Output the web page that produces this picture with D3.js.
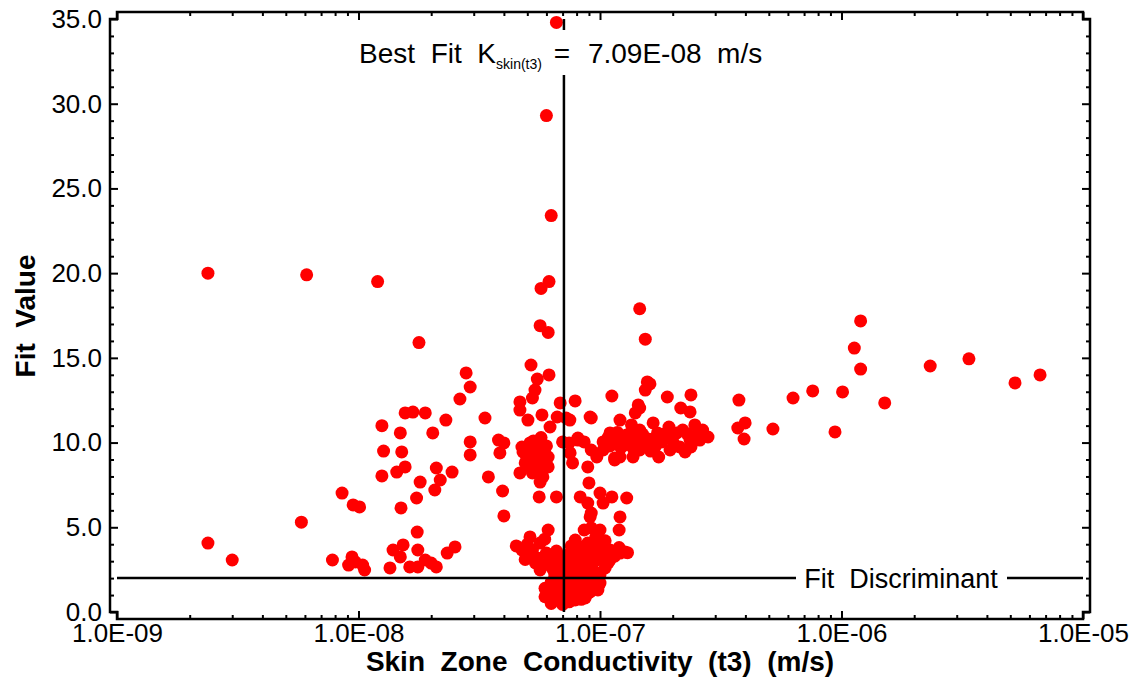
<!DOCTYPE html>
<html>
<head>
<meta charset="utf-8">
<script src="https://cdn.jsdelivr.net/npm/d3@7"></script>
<style>
  body { margin: 0; background: #fff; }
  text { font-family: "Liberation Sans", Arial, sans-serif; fill: #000; }
</style>
</head>
<body>
<svg id="chart" width="1141" height="686"></svg>
<script>
// points are [conductivity K (m/s), fit value]
var outliers = [
  [6.6e-8,34.8],[6.0e-8,29.3],[6.28e-8,23.4],[6.15e-8,19.5],[5.7e-8,19.1],
  [2.38e-9,20.0],[6.1e-9,19.9],[1.2e-8,19.5],[1.78e-8,15.9],[5.65e-8,16.9],
  [6.1e-8,16.5],[1.46e-7,17.9],[1.54e-7,16.1]
];
var leftGroup = [
  [2.38e-9,4.07],[3.0e-9,3.07],[5.8e-9,5.3],[7.8e-9,3.07],[8.55e-9,7.02],
  [9.5e-9,6.32],[1.01e-8,6.2],[9.4e-9,3.25],[9.7e-9,2.95],[1.04e-8,2.77],
  [1.06e-8,2.48],[9.1e-9,2.77],[1.35e-8,2.6],[1.39e-8,3.66],[1.53e-8,3.96],
  [1.49e-8,3.25],[1.75e-8,4.72],[1.76e-8,3.66],[1.89e-8,3.07],[1.63e-8,2.66],
  [1.76e-8,2.66],[2.1e-8,2.66],[2.0e-8,2.89],[2.33e-8,3.48],[2.51e-8,3.84],
  [1.25e-8,11.0],[1.56e-8,11.75],[1.68e-8,11.8],[1.89e-8,11.75],[1.49e-8,10.57],
  [1.27e-8,9.5],[1.51e-8,9.45],[1.25e-8,8.03],[1.44e-8,8.26],[1.56e-8,8.56],
  [1.8e-8,7.67],[2.1e-8,8.5],[2.44e-8,8.26],[2.18e-8,7.79],[2.07e-8,7.2],
  [1.74e-8,6.73],[1.5e-8,6.14],[2.3e-8,11.33],[2.03e-8,10.57],[2.79e-8,14.11],
  [2.9e-8,13.28],[2.63e-8,12.57],[3.34e-8,11.45],[2.9e-8,10.04],[2.9e-8,9.27],
  [3.8e-8,10.15],[4.0e-8,9.98],[3.85e-8,9.39],[3.45e-8,7.97],[3.95e-8,7.14],
  [4.0e-8,5.67]
];
var centerCluster = [
  [5.18e-8,14.58],[5.5e-8,13.75],[6.15e-8,13.99],[5.38e-8,13.1],[5.25e-8,12.63],
  [4.66e-8,12.4],[4.66e-8,11.92],[5.03e-8,11.33],[5.75e-8,11.63],[6.21e-8,10.92],
  [6.65e-8,11.51],[6.84e-8,12.34],[7.89e-8,12.46],[7.24e-8,11.45],[9.2e-8,11.45],
  [4.75e-8,9.74],[5.13e-8,9.98],[5.5e-8,9.74],[5.92e-8,9.39],[4.98e-8,9.15],
  [5.25e-8,8.97],[5.75e-8,8.8],[6.1e-8,8.56],[5.13e-8,8.56],[4.66e-8,8.21],
  [5.25e-8,8.21],[5.8e-8,7.97],[5.65e-8,7.67],[4.8e-8,9.45],[6.1e-8,9.15],
  [5.0e-8,9.6],[5.4e-8,9.3],[5.8e-8,9.0],[5.5e-8,8.4],[4.9e-8,8.8],
  [6.0e-8,9.8],[5.3e-8,10.1],[5.7e-8,10.3],
  [5.6e-8,6.79],[6.6e-8,6.79],[7.45e-8,9.98],[7.52e-8,9.39],[7.7e-8,8.8],
  [8.1e-8,10.27],[8.6e-8,10.04],[8.9e-8,8.56],[9.0e-8,7.62],[8.28e-8,6.79],
  [8.9e-8,6.43],[9.1e-8,5.61],[1.0e-7,7.02],[1.12e-7,6.79],[1.03e-7,6.43],
  [1.29e-7,6.73],[1.21e-7,5.61],[1.2e-7,4.84],[9.2e-8,5.84],[8.6e-8,4.84],
  [9.2e-8,4.96],[1.0e-7,4.84],[7.9e-8,4.25],[8.9e-8,4.07],[9.4e-8,3.78],
  [1.0e-7,3.84],[1.1e-7,3.66],[1.21e-7,3.48],[1.27e-7,3.54],[7.52e-8,3.48],
  [8.0e-8,3.25],[8.6e-8,3.36],[9.1e-8,3.19],[9.8e-8,3.25],[6.84e-8,3.07],
  [7.24e-8,2.89],[7.0e-8,2.66],[7.7e-8,2.89],[8.6e-8,2.89],[9.4e-8,2.95],
  [5.13e-8,4.43],[5.65e-8,4.07],[6.1e-8,4.84],[6.0e-8,3.48],[5.25e-8,3.66],
  [4.75e-8,3.66],[4.98e-8,3.36],[5.5e-8,3.19],[5.65e-8,2.48],[8.28e-8,3.84],
  [9.7e-8,3.07],[7.7e-8,2.66],[8.1e-8,2.07],[9.4e-8,1.89],[1.0e-7,1.71],
  [1.05e-7,2.6],[1.1e-7,3.07],[6.5e-8,2.18],[8.7e-8,2.36],[6.2e-8,2.95],
  [7.0e-8,2.3],[7.45e-8,2.4],[7.89e-8,2.5],[8.36e-8,2.6],[8.9e-8,2.5],
  [9.4e-8,2.4],[9.9e-8,2.3],[1.03e-7,3.3],[1.08e-7,2.9],[1.15e-7,3.3],
  [1.2e-7,3.8],[1.05e-7,4.2],[9.6e-8,4.4],[8.4e-8,3.7],[7.6e-8,3.9],
  [6.6e-8,3.6],[6.4e-8,3.1],[1.3e-7,3.5],[1.0e-7,2.2],[6.4e-8,2.5],
  [5.9e-8,2.8],[7.2e-8,3.3],[4.5e-8,3.9],[5.0e-8,4.0],[5.4e-8,2.9],
  [4.9e-8,3.1],[5.9e-8,4.3]
];
var lowerBlob = [
  [6.52e-8,1.59],[7.17e-8,1.42],[7.89e-8,1.59],[8.68e-8,1.59],[9.55e-8,1.71],
  [6.84e-8,1.0],[7.52e-8,0.89],[8.28e-8,1.0],[9.1e-8,1.18],[6.21e-8,1.3],
  [7.17e-8,0.59],[7.89e-8,0.71],[8.68e-8,0.83],[6.52e-8,0.71],[6.84e-8,1.89],
  [8.28e-8,1.89],[9.8e-8,1.3],[7.52e-8,1.89],[6.1e-8,0.95],
  [5.92e-8,1.4],[5.92e-8,0.9],[6.28e-8,0.5],[6.65e-8,1.3],[7.0e-8,1.7],
  [7.0e-8,1.1],[7.0e-8,0.45],[7.45e-8,1.3],[7.45e-8,0.6],[7.89e-8,1.2],
  [8.36e-8,1.4],[8.36e-8,0.75],[8.9e-8,1.1],[8.9e-8,1.85],[9.4e-8,1.45],
  [9.9e-8,1.6],[9.9e-8,1.95],[6.28e-8,1.75]
];
var rightBand = [
  [1.12e-7,12.75],[1.46e-7,12.04],[1.54e-7,13.1],[1.57e-7,13.58],[1.61e-7,13.46],
  [1.9e-7,12.69],[2.38e-7,12.81],[2.16e-7,12.04],[2.36e-7,11.81],[1.44e-7,12.22],
  [1.4e-7,11.75],[1.21e-7,11.33],[1.1e-7,10.57],[1.03e-7,10.04],[1.15e-7,10.15],
  [1.29e-7,10.45],[1.46e-7,10.74],[1.66e-7,11.16],[1.73e-7,10.57],[1.54e-7,10.04],
  [1.69e-7,9.74],[1.8e-7,10.04],[1.9e-7,10.33],[2.08e-7,10.57],[2.2e-7,10.74],
  [2.36e-7,10.15],[2.14e-7,9.74],[1.75e-7,9.15],[1.46e-7,9.56],[1.37e-7,9.15],
  [1.21e-7,9.15],[1.15e-7,9.09],[1.03e-7,9.56],[9.7e-8,9.15],[9.2e-8,9.56],
  [9.1e-8,11.51],[7.5e-8,11.33],[7.0e-8,10.04],[8.1e-8,10.15],[1.15e-7,8.97],
  [2.38e-7,9.74],[2.66e-7,10.74],[2.8e-7,10.33],[1.93e-7,10.92],[2.59e-7,10.15],
  [2.47e-7,11.04],[2.25e-7,9.45],[1.95e-7,9.56],[1.27e-7,9.86],[1.35e-7,11.04],
  [1.1e-7,9.8],
  [1.08e-7,10.3],[1.18e-7,10.6],[1.25e-7,10.1],[1.32e-7,10.5],[1.4e-7,10.2],
  [1.5e-7,10.5],[1.6e-7,10.2],[1.7e-7,9.9],[1.85e-7,10.5],[2.0e-7,10.1],
  [2.05e-7,9.8],[1.62e-7,9.5],[1.38e-7,9.6],[1.22e-7,9.7],[2.3e-7,10.5],
  [2.5e-7,10.4]
];
var farRight = [
  [3.76e-7,12.51],[3.72e-7,10.86],[3.99e-7,11.16],[3.95e-7,10.21],[5.2e-7,10.8],
  [6.3e-7,12.63],[7.6e-7,13.05],[1.01e-6,12.99],[9.4e-7,10.63],[1.2e-6,17.18],
  [1.13e-6,15.58],[1.2e-6,14.34],[1.51e-6,12.34],[2.33e-6,14.52],[3.37e-6,14.94],
  [5.23e-6,13.52],[6.64e-6,13.99]
];

var bestFitK = 7.09e-8;
var fitDiscriminant = 2.0;
var xMajorTicks = [1e-9, 1e-8, 1e-7, 1e-6, 1e-5];
var yMajorTicks = [0, 5, 10, 15, 20, 25, 30, 35];

var points = outliers.concat(leftGroup, centerCluster, lowerBlob, rightBand, farRight);

var svg = d3.select("#chart");
// plot area edges; the frame sits "off" pixels outside it
var pLeft = 117, pRight = 1083, pTop = 19, pBottom = 612, off = 7;

var x = d3.scaleLog().domain([1e-9, 1e-5]).range([pLeft, pRight]);
var y = d3.scaleLinear().domain([0, 35]).range([pBottom, pTop]);

var xMinor = x.ticks().filter(function(d) { return xMajorTicks.indexOf(d) < 0; });
var yMinor = y.ticks(35).filter(function(d) { return d % 5 !== 0; });

function expFmt(d) {
  var e = Math.round(Math.log10(d));
  return "1.0E" + (e < 0 ? "-" : "+") + String(Math.abs(e)).padStart(2, "0");
}

// dots
svg.append("g").selectAll("circle")
  .data(points)
  .enter()
  .append("circle")
  .attr("cx", function(d) { return x(d[0]); })
  .attr("cy", function(d) { return y(d[1]); })
  .attr("r", 6.5)
  .attr("fill", "#ff0000");

// axes
function styleAxis(g) {
  g.select(".domain").remove();
  g.selectAll(".tick line").attr("stroke", "#000").attr("stroke-width", 2);
  g.selectAll(".tick text").style("font-size", "26px").attr("fill", "#000");
}

svg.append("g").attr("transform", "translate(0," + (pBottom + off) + ")")
  .call(d3.axisBottom(x).tickValues(xMajorTicks).tickSize(-8).tickPadding(5).tickFormat(expFmt))
  .call(styleAxis);
svg.append("g").attr("transform", "translate(0," + (pBottom + off) + ")")
  .call(d3.axisBottom(x).tickValues(xMinor).tickSize(-4).tickFormat(""))
  .call(styleAxis);
svg.append("g").attr("transform", "translate(0," + (pTop - off) + ")")
  .call(d3.axisTop(x).tickValues(xMajorTicks).tickSize(-8).tickFormat(""))
  .call(styleAxis);
svg.append("g").attr("transform", "translate(0," + (pTop - off) + ")")
  .call(d3.axisTop(x).tickValues(xMinor).tickSize(-4).tickFormat(""))
  .call(styleAxis);

svg.append("g").attr("transform", "translate(" + (pLeft - off) + ",0)")
  .call(d3.axisLeft(y).tickValues(yMajorTicks).tickSize(-8).tickPadding(8).tickFormat(d3.format(".1f")))
  .call(styleAxis);
svg.append("g").attr("transform", "translate(" + (pLeft - off) + ",0)")
  .call(d3.axisLeft(y).tickValues(yMinor).tickSize(-4).tickFormat(""))
  .call(styleAxis);
svg.append("g").attr("transform", "translate(" + (pRight + off) + ",0)")
  .call(d3.axisRight(y).tickValues(yMajorTicks).tickSize(-8).tickFormat(""))
  .call(styleAxis);
svg.append("g").attr("transform", "translate(" + (pRight + off) + ",0)")
  .call(d3.axisRight(y).tickValues(yMinor).tickSize(-4).tickFormat(""))
  .call(styleAxis);

// frame with stepped corners
var frame = d3.path();
frame.moveTo(pLeft, pTop - off);
frame.lineTo(pRight, pTop - off);
frame.lineTo(pRight, pTop);
frame.lineTo(pRight + off, pTop);
frame.lineTo(pRight + off, pBottom);
frame.lineTo(pRight, pBottom);
frame.lineTo(pRight, pBottom + off);
frame.lineTo(pLeft, pBottom + off);
frame.lineTo(pLeft, pBottom);
frame.lineTo(pLeft - off, pBottom);
frame.lineTo(pLeft - off, pTop);
frame.lineTo(pLeft, pTop);
frame.closePath();
svg.append("path").attr("d", frame.toString())
  .attr("fill", "none").attr("stroke", "#000").attr("stroke-width", 2.5);

// best fit line, broken around its label
var bx = x(bestFitK);
svg.append("line").attr("x1", bx).attr("x2", bx).attr("y1", pTop).attr("y2", 30)
  .attr("stroke", "#000").attr("stroke-width", 2.5);
svg.append("line").attr("x1", bx).attr("x2", bx).attr("y1", 75).attr("y2", pBottom)
  .attr("stroke", "#000").attr("stroke-width", 2.5);

var lbl = svg.append("text").attr("x", bx - 22).attr("y", 63)
  .attr("text-anchor", "end").style("font-size", "28px").attr("xml:space", "preserve");
lbl.append("tspan").text("Best  Fit  K");
lbl.append("tspan").attr("dy", 6).style("font-size", "14px").text("skin(t3)");
svg.append("text").attr("x", bx - 2).attr("y", 63).attr("text-anchor", "middle")
  .style("font-size", "28px").text("=");
svg.append("text").attr("x", bx + 24).attr("y", 63).attr("xml:space", "preserve")
  .style("font-size", "28px").text("7.09E-08  m/s");

// fit discriminant line, broken around its label
var dy = y(fitDiscriminant);
svg.append("line").attr("x1", pLeft).attr("x2", 796).attr("y1", dy).attr("y2", dy)
  .attr("stroke", "#000").attr("stroke-width", 2.5);
svg.append("line").attr("x1", 1007).attr("x2", pRight).attr("y1", dy).attr("y2", dy)
  .attr("stroke", "#000").attr("stroke-width", 2.5);
svg.append("text").attr("x", 901).attr("y", dy + 10).attr("text-anchor", "middle")
  .attr("xml:space", "preserve").style("font-size", "27px").text("Fit  Discriminant");

// axis titles
svg.append("text").attr("x", 600).attr("y", 671).attr("text-anchor", "middle")
  .attr("xml:space", "preserve").style("font-size", "28px").style("font-weight", "bold")
  .text("Skin  Zone  Conductivity  (t3)  (m/s)");
svg.append("text").attr("transform", "translate(35,316) rotate(-90)").attr("text-anchor", "middle")
  .attr("xml:space", "preserve").style("font-size", "28px").style("font-weight", "bold")
  .text("Fit  Value");
</script>
</body>
</html>
